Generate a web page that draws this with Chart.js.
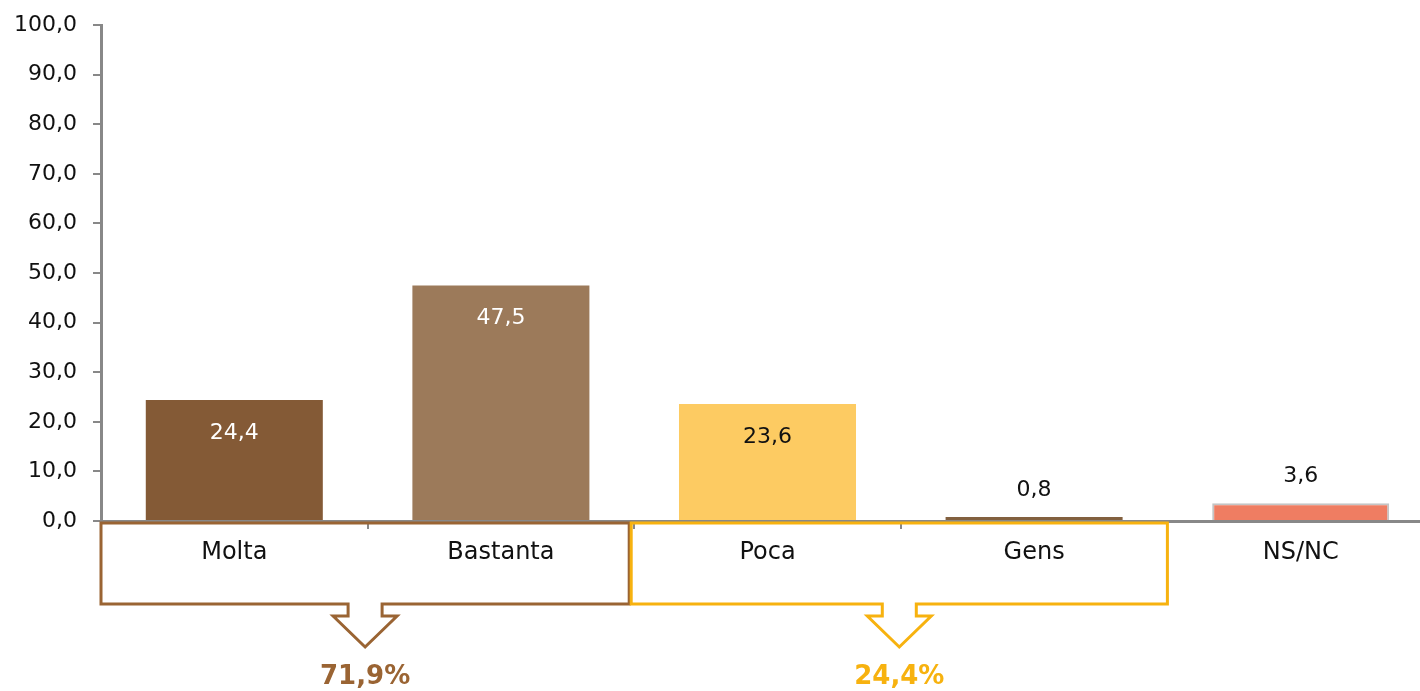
<!DOCTYPE html>
<html>
<head>
<meta charset="utf-8">
<script src="https://cdn.jsdelivr.net/npm/chart.js@4.4.0/dist/chart.umd.min.js"></script>
<style>
    html, body { margin: 0; padding: 0; background: #fff; overflow: hidden; }
    #wrap { width: 1434px; height: 691px; }
</style>
</head>
<body>
<div id="wrap"><canvas id="chart"></canvas></div>
<script>
// categories and values
const categories = ['Molta', 'Bastanta', 'Poca', 'Gens', 'NS/NC'];
const values = [24.4, 47.5, 23.6, 0.8, 3.6];
const barColors = ['#845a36', '#9c7a5a', '#fdcb62', '#82603f', '#ef7d62'];
const labelColors = ['#ffffff', '#ffffff', '#111111', '#111111', '#111111'];
const labelInside = [true, true, true, false, false];

// grouped totals under the axis
const groupStart = [0, 2];
const groupEnd = [1, 3];
const groupTotals = ['71,9%', '24,4%'];
const groupColors = ['#9a6433', '#f7b20f'];

const FONT = 'DejaVu Sans';
const fmt = v => v.toFixed(1).replace('.', ',');

// value labels on the bars
const barLabels = {
    id: 'barLabels',
    afterDatasetsDraw(chart) {
        const ctx = chart.ctx;
        const meta = chart.getDatasetMeta(0);
        ctx.save();
        ctx.font = `22px "${FONT}"`;
        ctx.textAlign = 'center';
        ctx.textBaseline = 'middle';
        meta.data.forEach((bar, i) => {
            ctx.fillStyle = labelColors[i];
            const y = labelInside[i] ? bar.y + 33 : bar.y - 27;
            ctx.fillText(fmt(values[i]), bar.x, y);
        });
        ctx.restore();
    }
};

// brackets with arrows + totals
const brackets = {
    id: 'brackets',
    afterDraw(chart) {
        const ctx = chart.ctx;
        const x = chart.scales.x;
        const area = chart.chartArea;
        const step = x.getPixelForValue(1) - x.getPixelForValue(0);
        ctx.save();
        groupStart.forEach((s, g) => {
            let left = x.getPixelForValue(s) - step / 2;
            let right = x.getPixelForValue(groupEnd[g]) + step / 2;
            if (g === 0) right -= 5; else left -= 3;
            const top = area.bottom + 2;
            const bottom = area.bottom + 83;
            const cx = (left + right) / 2;
            ctx.strokeStyle = groupColors[g];
            ctx.lineWidth = 3;
            ctx.lineJoin = 'miter';
            ctx.beginPath();
            ctx.moveTo(left, top);
            ctx.lineTo(left, bottom);
            ctx.lineTo(cx - 17, bottom);
            ctx.lineTo(cx - 17, bottom + 12);
            ctx.lineTo(cx - 32, bottom + 12);
            ctx.lineTo(cx, bottom + 43);
            ctx.lineTo(cx + 32, bottom + 12);
            ctx.lineTo(cx + 17, bottom + 12);
            ctx.lineTo(cx + 17, bottom);
            ctx.lineTo(right, bottom);
            ctx.lineTo(right, top);
            ctx.closePath();
            ctx.stroke();

            ctx.fillStyle = groupColors[g];
            ctx.font = `bold 26px "${FONT}"`;
            ctx.textAlign = 'center';
            ctx.textBaseline = 'middle';
            ctx.fillText(groupTotals[g], cx, area.bottom + 156);
        });
        ctx.restore();
    }
};

new Chart(document.getElementById('chart').getContext('2d'), {
    type: 'bar',
    data: {
        labels: categories,
        datasets: [{
            data: values,
            backgroundColor: barColors,
            borderColor: '#c4c4c4',
            borderWidth: [0, 0, 0, 0, 2],
            barPercentage: 0.664,
            categoryPercentage: 1
        }]
    },
    options: {
        responsive: true,
        maintainAspectRatio: false,
        animation: false,
        devicePixelRatio: 1,
        layout: { padding: { top: 25, right: 0, bottom: 0, left: 0 } },
        plugins: {
            legend: { display: false },
            tooltip: { enabled: false }
        },
        scales: {
            x: {
                grid: { drawOnChartArea: false, drawTicks: true, tickLength: 8, lineWidth: 2, color: '#888', offset: true },
                border: { color: '#888', width: 3 },
                ticks: { color: '#111', font: { family: FONT, size: 24 }, padding: 9 },
                afterFit: s => { s.height = 170; }
            },
            y: {
                min: 0,
                max: 100,
                grid: { drawOnChartArea: false, drawTicks: true, tickLength: 8, lineWidth: 2, color: '#888' },
                border: { color: '#888', width: 3 },
                ticks: { stepSize: 10, color: '#111', font: { family: FONT, size: 22 }, padding: 16, callback: v => fmt(v) },
                afterFit: s => { s.width = 101; s.paddingTop = 0; s.paddingBottom = 0; }
            }
        }
    },
    plugins: [barLabels, brackets]
});
</script>
</body>
</html>
